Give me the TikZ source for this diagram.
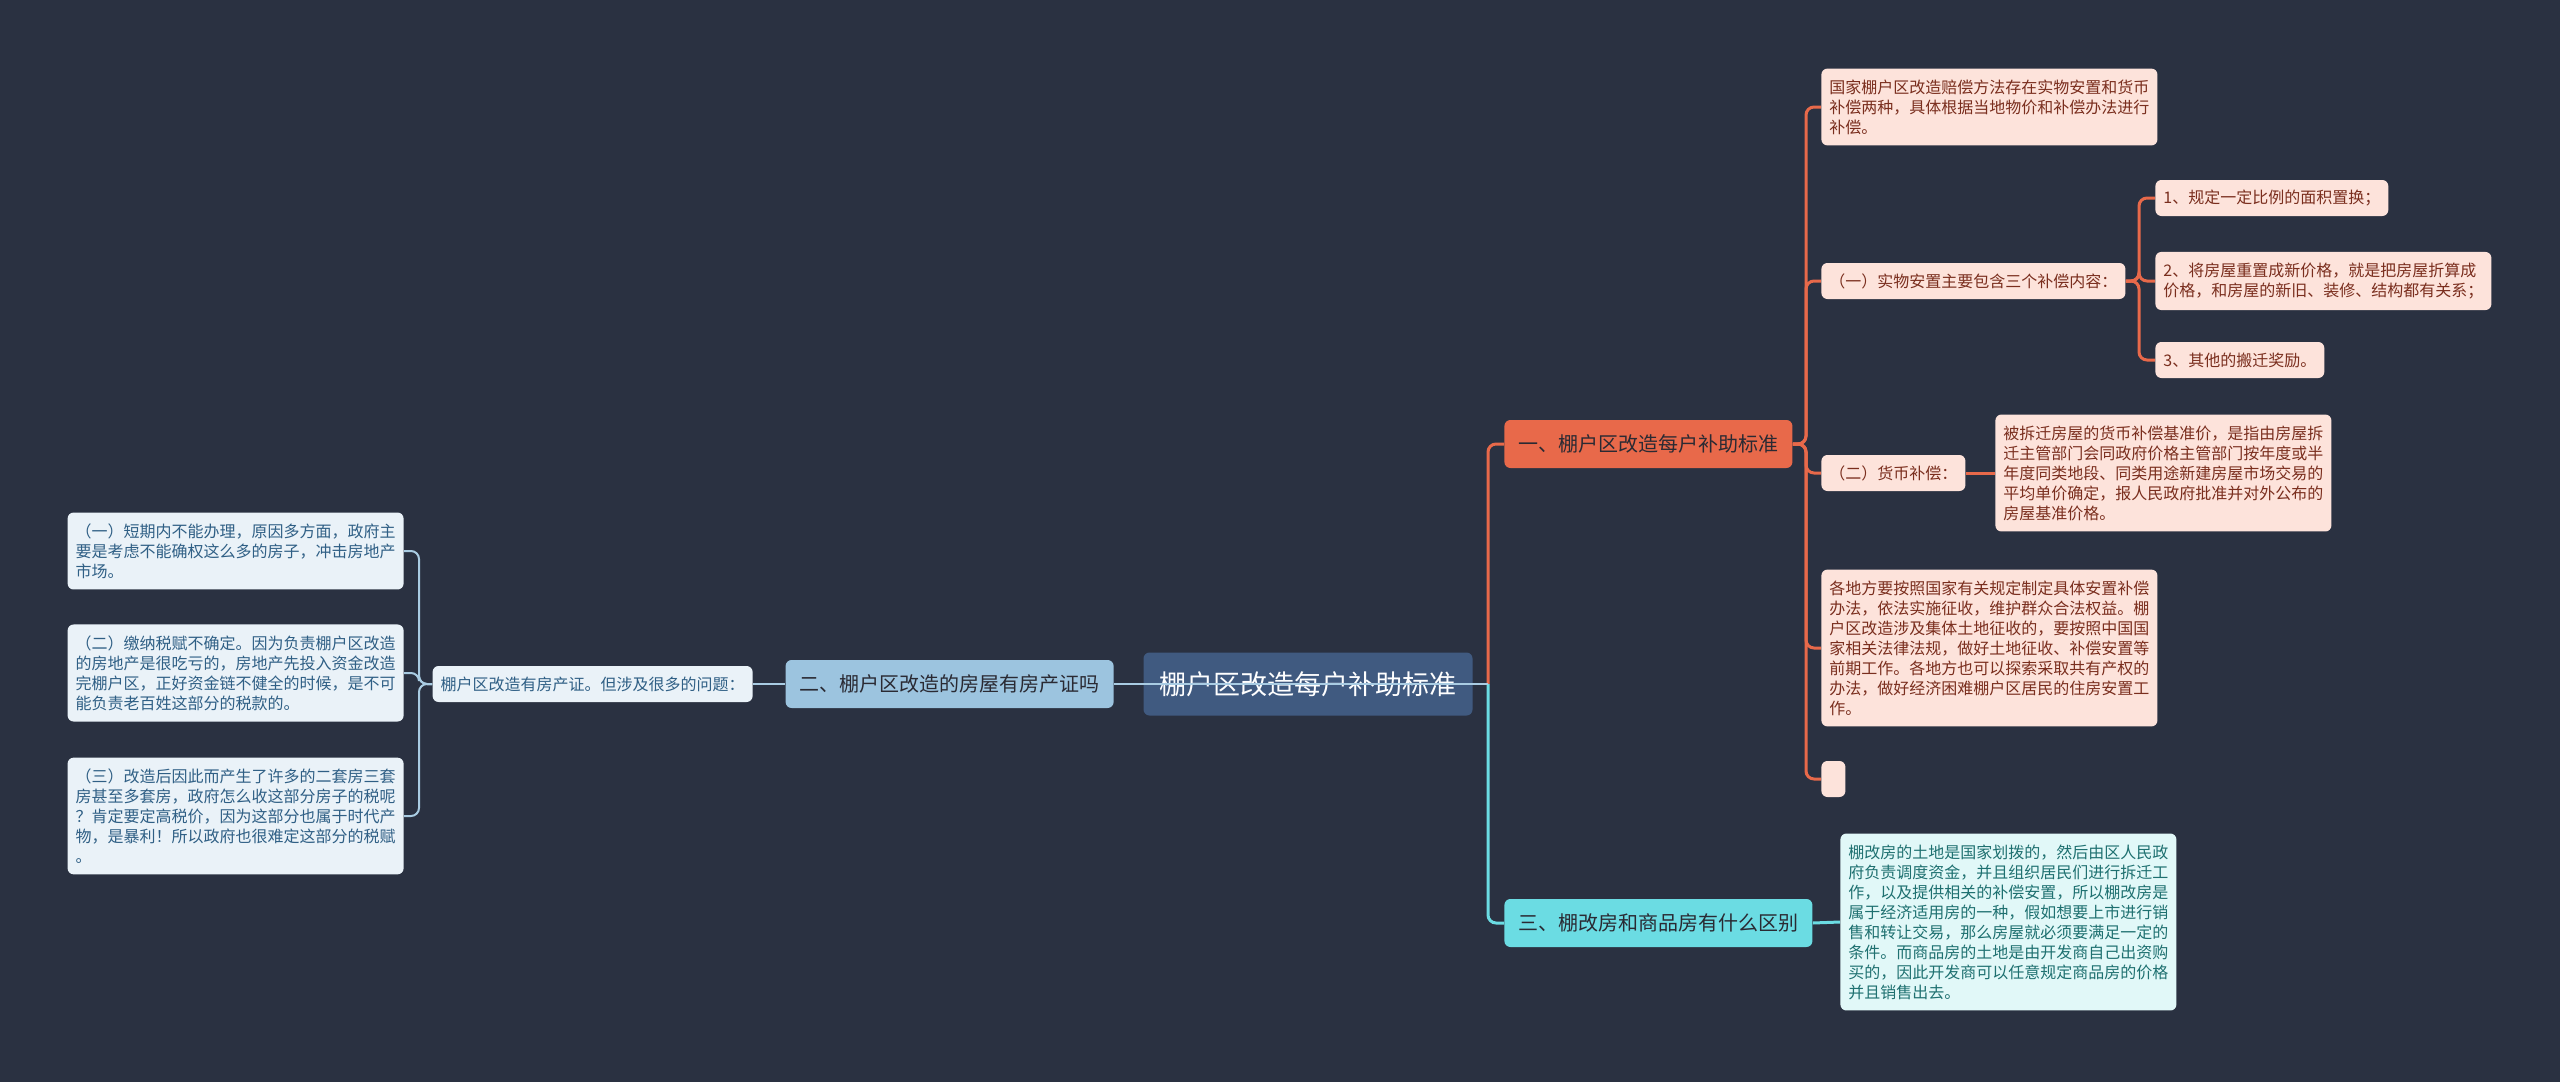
\documentclass[tikz,border=0pt]{standalone}
\usepackage{fontspec}
\usepackage{tikz}
\usetikzlibrary{backgrounds}
\newfontfamily\cjk{Noto Sans CJK SC}

\definecolor{bgcol}{HTML}{2A3141}
\definecolor{rootcol}{HTML}{405A80}
\definecolor{orangecol}{HTML}{E8694A}
\definecolor{pinkcol}{HTML}{FDE3DB}
\definecolor{pinktext}{HTML}{7A2E1E}
\definecolor{bluecol}{HTML}{9CC4DF}
\definecolor{blueline}{HTML}{A9CCE3}
\definecolor{paleblue}{HTML}{EAF2F8}
\definecolor{bluetext}{HTML}{2F5F85}
\definecolor{cyancol}{HTML}{6BDCE3}
\definecolor{palecyan}{HTML}{E1F8F8}
\definecolor{cyantext}{HTML}{1E7070}
\definecolor{darktext}{HTML}{2A2A33}

\tikzset{
  rootnode/.style={fill=rootcol,text=white,rounded corners=3pt,inner sep=0pt,
    minimum width=164.5pt,minimum height=31.5pt,font=\cjk\fontsize{13.5}{16}\selectfont},
  branchnode/.style={rounded corners=3pt,inner xsep=7pt,inner ysep=0pt,
    minimum height=24pt,text=darktext,font=\cjk\fontsize{10}{12}\selectfont},
  leafnode/.style={rounded corners=3pt,inner xsep=4pt,inner ysep=2pt,
    minimum height=18pt,font=\cjk\fontsize{8}{10}\selectfont},
  textnode/.style={leafnode,text width=160pt,align=left,inner ysep=5.5pt},
  pinkleaf/.style={fill=pinkcol,text=pinktext},
  blueleaf/.style={fill=paleblue,text=bluetext},
  cyanleaf/.style={fill=palecyan,text=cyantext},
  oline/.style={draw=orangecol,line width=1.5pt,rounded corners=4pt},
  bline/.style={draw=blueline,line width=1pt,rounded corners=4pt},
  cline/.style={draw=cyancol,line width=1.5pt,rounded corners=4pt},
}

\begin{document}
\begin{tikzpicture}[x=0.5pt,y=-0.5pt]
\useasboundingbox (0,0) rectangle (2560,1082);
\begin{scope}[on background layer]
\path[fill=bgcol] (0,0) rectangle (2560,1082);
\end{scope}

% centre and main branches
\node[rootnode] (root) at (1308,684) {棚户区改造每户补助标准};
\node[branchnode,fill=orangecol,anchor=west] (sub1) at (1504,444) {一、棚户区改造每户补助标准};
\node[branchnode,fill=bluecol,anchor=east] (sub2) at (1114,684) {二、棚户区改造的房屋有房产证吗};
\node[branchnode,fill=cyancol,anchor=west] (sub3) at (1504,923) {三、棚改房和商品房有什么区别};

% first branch
\node[textnode,pinkleaf,anchor=west] (s1a) at (1821,107) {国家棚户区改造赔偿方法存在实物安置和货币\\补偿两种，具体根据当地物价和补偿办法进行\\补偿。};
\node[leafnode,pinkleaf,anchor=west] (s1b) at (1821,281) {（一）实物安置主要包含三个补偿内容：};
\node[leafnode,pinkleaf,anchor=west] (s1b1) at (2155,198) {1、规定一定比例的面积置换；};
\node[textnode,pinkleaf,anchor=west] (s1b2) at (2155,281) {2、将房屋重置成新价格，就是把房屋折算成\\价格，和房屋的新旧、装修、结构都有关系；};
\node[leafnode,pinkleaf,anchor=west] (s1b3) at (2155,360) {3、其他的搬迁奖励。};
\node[leafnode,pinkleaf,anchor=west] (s1c) at (1821,473) {（二）货币补偿：};
\node[textnode,pinkleaf,anchor=west] (s1c1) at (1995,473) {被拆迁房屋的货币补偿基准价，是指由房屋拆\\迁主管部门会同政府价格主管部门按年度或半\\年度同类地段、同类用途新建房屋市场交易的\\平均单价确定，报人民政府批准并对外公布的\\房屋基准价格。};
\node[textnode,pinkleaf,anchor=west] (s1d) at (1821,648) {各地方要按照国家有关规定制定具体安置补偿\\办法，依法实施征收，维护群众合法权益。棚\\户区改造涉及集体土地征收的，要按照中国国\\家相关法律法规，做好土地征收、补偿安置等\\前期工作。各地方也可以探索采取共有产权的\\办法，做好经济困难棚户区居民的住房安置工\\作。};
\node[leafnode,pinkleaf,anchor=west,minimum width=12pt] (s1e) at (1821,779) {};

% second branch
\node[leafnode,blueleaf,anchor=east] (s2a) at (753,684) {棚户区改造有房产证。但涉及很多的问题：};
\node[textnode,blueleaf,anchor=east] (s2a1) at (404,551) {（一）短期内不能办理，原因多方面，政府主\\要是考虑不能确权这么多的房子，冲击房地产\\市场。};
\node[textnode,blueleaf,anchor=east] (s2a2) at (404,673) {（二）缴纳税赋不确定。因为负责棚户区改造\\的房地产是很吃亏的，房地产先投入资金改造\\完棚户区，正好资金链不健全的时候，是不可\\能负责老百姓这部分的税款的。};
\node[textnode,blueleaf,anchor=east] (s2a3) at (404,816) {（三）改造后因此而产生了许多的二套房三套\\房甚至多套房，政府怎么收这部分房子的税呢\\？肯定要定高税价，因为这部分也属于时代产\\物，是暴利！所以政府也很难定这部分的税赋\\。};

% third branch
\node[textnode,cyanleaf,anchor=west] (s3a) at (1840,922) {棚改房的土地是国家划拨的，然后由区人民政\\府负责调度资金，并且组织居民们进行拆迁工\\作，以及提供相关的补偿安置，所以棚改房是\\属于经济适用房的一种，假如想要上市进行销\\售和转让交易，那么房屋就必须要满足一定的\\条件。而商品房的土地是由开发商自己出资购\\买的，因此开发商可以任意规定商品房的价格\\并且销售出去。};

% fork points
\coordinate (forkroot) at (1488,684);
\coordinate (fork1) at (1806,444);
\coordinate (fork1b) at (2139,281);
\coordinate (fork2) at (419,684);

% connectors
\begin{scope}[on background layer]
\path[oline] (forkroot) |- (sub1.west);
\path[cline] (forkroot) |- (sub3.west);
\foreach \n in {s1a,s1b,s1c,s1d,s1e}
  \path[oline] (sub1.east) -- (fork1) |- (\n.west);
\foreach \n in {s1b1,s1b2,s1b3}
  \path[oline] (s1b.east) -- (fork1b) |- (\n.west);
\path[oline] (s1c.east) -- (s1c1.west);
\path[cline] (sub3.east) -- (s3a.west);
\path[bline] (sub2.west) -- (s2a.east);
\foreach \n in {s2a1,s2a2,s2a3}
  \path[bline] (s2a.west) -- (fork2) |- (\n.east);
\end{scope}
\path[bline] (forkroot) -- (sub2.east);
\end{tikzpicture}
\end{document}
